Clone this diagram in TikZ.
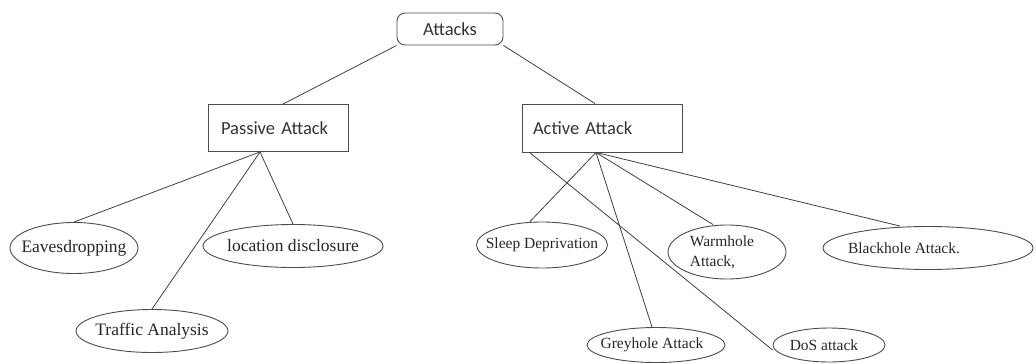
\documentclass[tikz,border=0pt]{standalone}
\usepackage{fontspec}
\setmainfont{Liberation Serif}
\setsansfont{Carlito}
\usetikzlibrary{shapes.geometric}

\begin{document}
\begin{tikzpicture}[x=1pt,y=-1pt,
    box/.style={draw=black!70,line width=0.9pt,inner sep=0pt,
        font=\sffamily\fontsize{18.5}{21}\selectfont,text=black!80},
    oval/.style={draw=black!70,line width=0.9pt,ellipse,inner sep=0pt},
    ovaltext/.style={font=\fontsize{17.5}{20}\selectfont,align=left,text=black!85},
    acttext/.style={ovaltext,font=\fontsize{15.5}{20}\selectfont},
    edge/.style={draw=black!75,line width=0.8pt}]
    \useasboundingbox (0,0) rectangle (1036,364);
    % top and the two kinds
    \node[box,rounded corners=8pt,minimum width=106pt,minimum height=32pt] (att) at (450,29) {Attacks};
    \node[box,minimum height=47pt,text width=114pt,inner xsep=13pt,align=left] (pas) at (278,128) {Passive Attack};
    \node[box,minimum height=48pt,text width=138pt,inner xsep=11pt,align=left] (act) at (602,128) {Active Attack};
    % passive ones
    \node[oval,minimum width=128pt,minimum height=51pt,label={[ovaltext]center:Eavesdropping}] (eav) at (74,248) {};
    \node[oval,minimum width=180pt,minimum height=43pt,label={[ovaltext]center:location disclosure}] (loc) at (293,246) {};
    \node[oval,minimum width=152pt,minimum height=43pt,label={[ovaltext]center:Traffic Analysis}] (tra) at (152,331) {};
    % active ones
    \node[oval,minimum width=131pt,minimum height=46pt,label={[acttext]center:Sleep Deprivation}] (sle) at (542,245) {};
    \node[oval,minimum width=118pt,minimum height=54pt,label={[acttext,xshift=-5pt]center:{Warmhole\\Attack,}}] (war) at (727,252) {};
    \node[oval,minimum width=210pt,minimum height=43pt,label={[acttext,xshift=-24pt]center:Blackhole Attack.}] (bla) at (928,248) {};
    \node[oval,minimum width=138pt,minimum height=35pt,label={[acttext,xshift=-4pt]center:Greyhole Attack}] (gre) at (656,345) {};
    \node[oval,minimum width=112pt,minimum height=34pt,label={[acttext,xshift=-5pt]center:DoS attack}] (dos) at (829,345) {};

    \draw[edge] (att.south west) -- ([xshift=5pt]pas.north);
    \draw[edge] (att.south east) -- ([xshift=-7pt]act.north);
    \foreach \c in {eav,loc,tra} {
        \draw[edge] ([xshift=-18pt]pas.south) -- (\c.north);
    }
    \foreach \c/\s in {sle/-12,gre/-4,war/-14,bla/-28} {
        \draw[edge] ([xshift=-6pt]act.south) -- ([xshift=\s pt]\c.north);
    }
    \draw[edge] ([xshift=8pt]act.south west) -- ([yshift=-5pt]dos.west);
\end{tikzpicture}
\end{document}
